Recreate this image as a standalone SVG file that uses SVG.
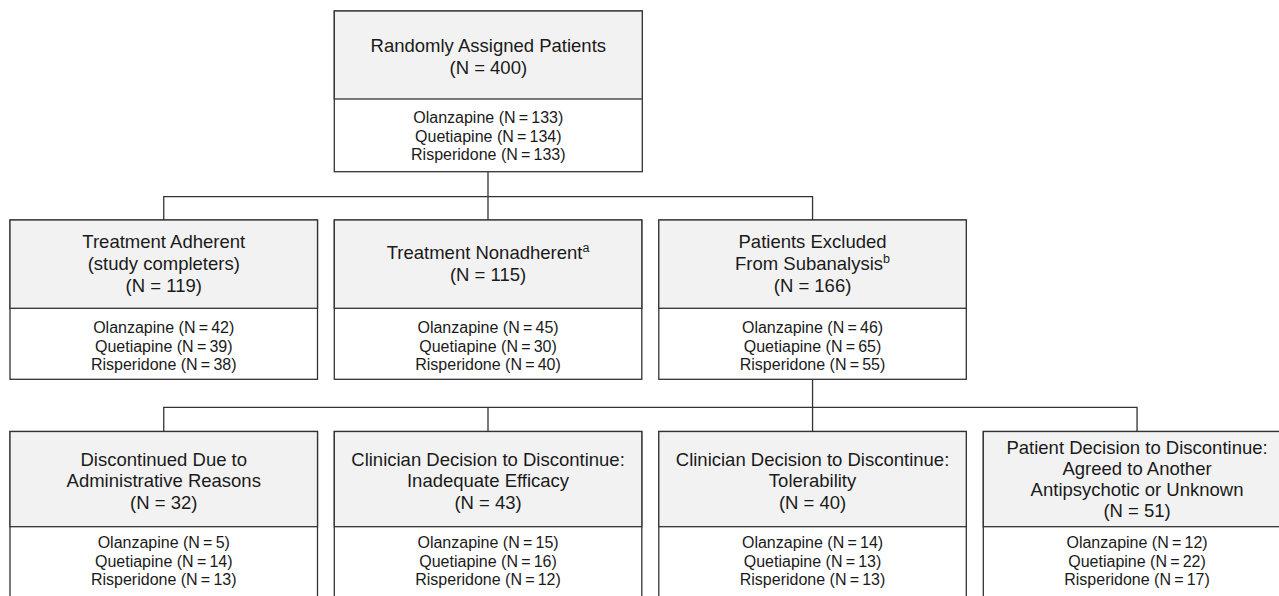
<svg xmlns="http://www.w3.org/2000/svg" width="1279" height="596" viewBox="0 0 1279 596">
<style>
.hd{fill:#f2f2f2;stroke:#333;stroke-width:1.3}
.bd{fill:#fff;stroke:#333;stroke-width:1.3}
.t{font-family:"Liberation Sans",Arial,sans-serif;font-size:18.5px;fill:#1a1a1a;text-anchor:middle}
.s{font-family:"Liberation Sans",Arial,sans-serif;font-size:16px;fill:#1a1a1a;text-anchor:middle}
.sup{font-size:12.5px}
.c{fill:none;stroke:#333;stroke-width:1.3}
</style>
<rect width="1279" height="596" fill="#fff"/>
<g id="connectors">
<path class="c" d="M488,171.7V196.7M163.75,220V196.7H812.55V220M488,196.7V220"/>
<path class="c" d="M812.55,379.3V407.3M163.75,431.5V407.3H1137.05V431.5M488,407.3V431.5M812.55,407.3V431.5"/>
</g>
<g id="randomized">
<rect class="bd" x="334.3" y="11" width="308" height="160.7"/>
<rect class="hd" x="334.3" y="11" width="308" height="88"/>
<text class="t" x="488.3" y="51.7">Randomly Assigned Patients</text>
<text class="t" x="488.3" y="74">(N = 400)</text>
<text class="s" x="488.3" y="123.3">Olanzapine (N&#8201;=&#8201;133)</text>
<text class="s" x="488.3" y="141.7">Quetiapine (N&#8201;=&#8201;134)</text>
<text class="s" x="488.3" y="160">Risperidone (N&#8201;=&#8201;133)</text>
</g>
<g id="adherent">
<rect class="bd" x="10" y="220" width="307.5" height="159.3"/>
<rect class="hd" x="10" y="220" width="307.5" height="88.3"/>
<text class="t" x="163.75" y="247.7">Treatment Adherent</text>
<text class="t" x="163.75" y="270">(study completers)</text>
<text class="t" x="163.75" y="292.3">(N = 119)</text>
<text class="s" x="163.75" y="333.3">Olanzapine (N&#8201;=&#8201;42)</text>
<text class="s" x="163.75" y="351.7">Quetiapine (N&#8201;=&#8201;39)</text>
<text class="s" x="163.75" y="370">Risperidone (N&#8201;=&#8201;38)</text>
</g>
<g id="nonadherent">
<rect class="bd" x="334.3" y="220" width="307.5" height="159.3"/>
<rect class="hd" x="334.3" y="220" width="307.5" height="88.3"/>
<text class="t" x="488.05" y="259">Treatment Nonadherent<tspan class="sup" dy="-7">a</tspan></text>
<text class="t" x="488.05" y="281">(N = 115)</text>
<text class="s" x="488.05" y="333.3">Olanzapine (N&#8201;=&#8201;45)</text>
<text class="s" x="488.05" y="351.7">Quetiapine (N&#8201;=&#8201;30)</text>
<text class="s" x="488.05" y="370">Risperidone (N&#8201;=&#8201;40)</text>
</g>
<g id="excluded">
<rect class="bd" x="658.8" y="220" width="307.5" height="159.3"/>
<rect class="hd" x="658.8" y="220" width="307.5" height="88.3"/>
<text class="t" x="812.55" y="247.7">Patients Excluded</text>
<text class="t" x="812.55" y="270">From Subanalysis<tspan class="sup" dy="-7">b</tspan></text>
<text class="t" x="812.55" y="292.3">(N = 166)</text>
<text class="s" x="812.55" y="333.3">Olanzapine (N&#8201;=&#8201;46)</text>
<text class="s" x="812.55" y="351.7">Quetiapine (N&#8201;=&#8201;65)</text>
<text class="s" x="812.55" y="370">Risperidone (N&#8201;=&#8201;55)</text>
</g>
<g id="administrative">
<rect class="bd" x="10" y="431.5" width="307.5" height="180"/>
<rect class="hd" x="10" y="431.5" width="307.5" height="95.2"/>
<text class="t" x="163.75" y="465.5">Discontinued Due to</text>
<text class="t" x="163.75" y="487">Administrative Reasons</text>
<text class="t" x="163.75" y="508.5">(N = 32)</text>
<text class="s" x="163.75" y="548.3">Olanzapine (N&#8201;=&#8201;5)</text>
<text class="s" x="163.75" y="566.7">Quetiapine (N&#8201;=&#8201;14)</text>
<text class="s" x="163.75" y="585">Risperidone (N&#8201;=&#8201;13)</text>
</g>
<g id="efficacy">
<rect class="bd" x="334.3" y="431.5" width="307.5" height="180"/>
<rect class="hd" x="334.3" y="431.5" width="307.5" height="95.2"/>
<text class="t" x="488.05" y="465.5">Clinician Decision to Discontinue:</text>
<text class="t" x="488.05" y="487">Inadequate Efficacy</text>
<text class="t" x="488.05" y="508.5">(N = 43)</text>
<text class="s" x="488.05" y="548.3">Olanzapine (N&#8201;=&#8201;15)</text>
<text class="s" x="488.05" y="566.7">Quetiapine (N&#8201;=&#8201;16)</text>
<text class="s" x="488.05" y="585">Risperidone (N&#8201;=&#8201;12)</text>
</g>
<g id="tolerability">
<rect class="bd" x="658.8" y="431.5" width="307.5" height="180"/>
<rect class="hd" x="658.8" y="431.5" width="307.5" height="95.2"/>
<text class="t" x="812.55" y="465.5">Clinician Decision to Discontinue:</text>
<text class="t" x="812.55" y="487">Tolerability</text>
<text class="t" x="812.55" y="508.5">(N = 40)</text>
<text class="s" x="812.55" y="548.3">Olanzapine (N&#8201;=&#8201;14)</text>
<text class="s" x="812.55" y="566.7">Quetiapine (N&#8201;=&#8201;13)</text>
<text class="s" x="812.55" y="585">Risperidone (N&#8201;=&#8201;13)</text>
</g>
<g id="patient">
<rect class="bd" x="983.3" y="431.5" width="307.5" height="180"/>
<rect class="hd" x="983.3" y="431.5" width="307.5" height="95.2"/>
<text class="t" x="1137.05" y="454.3">Patient Decision to Discontinue:</text>
<text class="t" x="1137.05" y="475.3">Agreed to Another</text>
<text class="t" x="1137.05" y="496.3">Antipsychotic or Unknown</text>
<text class="t" x="1137.05" y="517.3">(N = 51)</text>
<text class="s" x="1137.05" y="548.3">Olanzapine (N&#8201;=&#8201;12)</text>
<text class="s" x="1137.05" y="566.7">Quetiapine (N&#8201;=&#8201;22)</text>
<text class="s" x="1137.05" y="585">Risperidone (N&#8201;=&#8201;17)</text>
</g>
</svg>
